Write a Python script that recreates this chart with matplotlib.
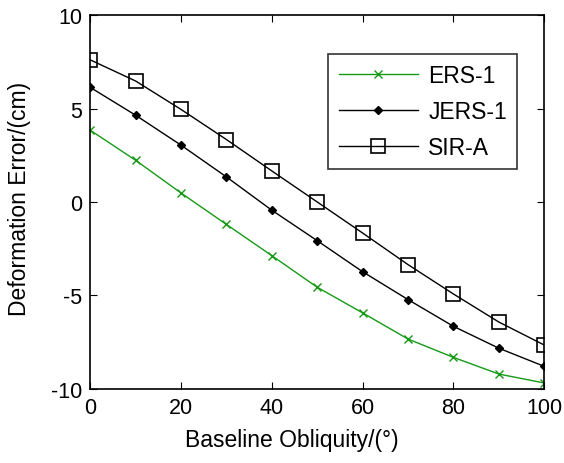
import matplotlib
matplotlib.use("Agg")
import matplotlib.pyplot as plt

plt.rcParams['font.family'] = ['Liberation Sans', 'DejaVu Sans']
plt.rcParams['axes.unicode_minus'] = False

obliquity = [0, 10, 20, 30, 40, 50, 60, 70, 80, 90, 100]
ers1 = [3.84, 2.23, 0.48, -1.2, -2.87, -4.56, -5.93, -7.33, -8.31, -9.2, -9.68]
jers1 = [6.13, 4.64, 3.04, 1.34, -0.44, -2.07, -3.73, -5.22, -6.65, -7.82, -8.79]
sira = [7.6, 6.47, 4.95, 3.34, 1.66, 0.0, -1.66, -3.35, -4.92, -6.42, -7.65]
xticks = [0, 20, 40, 60, 80, 100]
yticks = [-10, -5, 0, 5, 10]

fig = plt.figure(figsize=(5.64, 4.64), dpi=100)
ax = fig.add_axes([0.16, 0.1595, 0.805, 0.806])

ax.plot(obliquity, ers1, color='#159a15', lw=1, marker='x', ms=6, mew=1, label='ERS-1')
ax.plot(obliquity, jers1, color='black', lw=1, marker='D', ms=4, label='JERS-1')
ax.plot(obliquity, sira, color='black', lw=1, marker='s', ms=10, mfc='none', mew=1.2, label='SIR-A')

ax.set_xlim(0, 100)
ax.set_ylim(-10, 10)
ax.set_xticks(xticks)
ax.set_yticks(yticks)
ax.tick_params(direction='in', length=5, top=True, right=True, labelsize=15.5, pad=6)
for s in ax.spines.values():
    s.set_linewidth(1.2)

ax.set_xlabel('Baseline Obliquity/(°)', fontsize=16.5)
ax.xaxis.set_label_coords(0.443, -0.104, transform=ax.transAxes)
ax.xaxis.label.set_va('top')
ax.set_ylabel('Deformation Error/(cm)', fontsize=16.5)
ax.yaxis.set_label_coords(-0.13, 0.51, transform=ax.transAxes)

leg = ax.legend(loc='upper right', bbox_to_anchor=(0.9405, 0.8957), borderaxespad=0,
                fontsize=16.5, frameon=True, fancybox=False, edgecolor='black',
                handlelength=3.45, handletextpad=0.45,
                borderpad=0.45, labelspacing=0.55, markerscale=1)
leg.get_frame().set_linewidth(1.2)

fig.text(0.012, -0.047, 'The relationship of the baseline and the deformation error',
         fontsize=16, color='#555555', va='baseline', ha='left')

fig.savefig('out.png', dpi=100)
